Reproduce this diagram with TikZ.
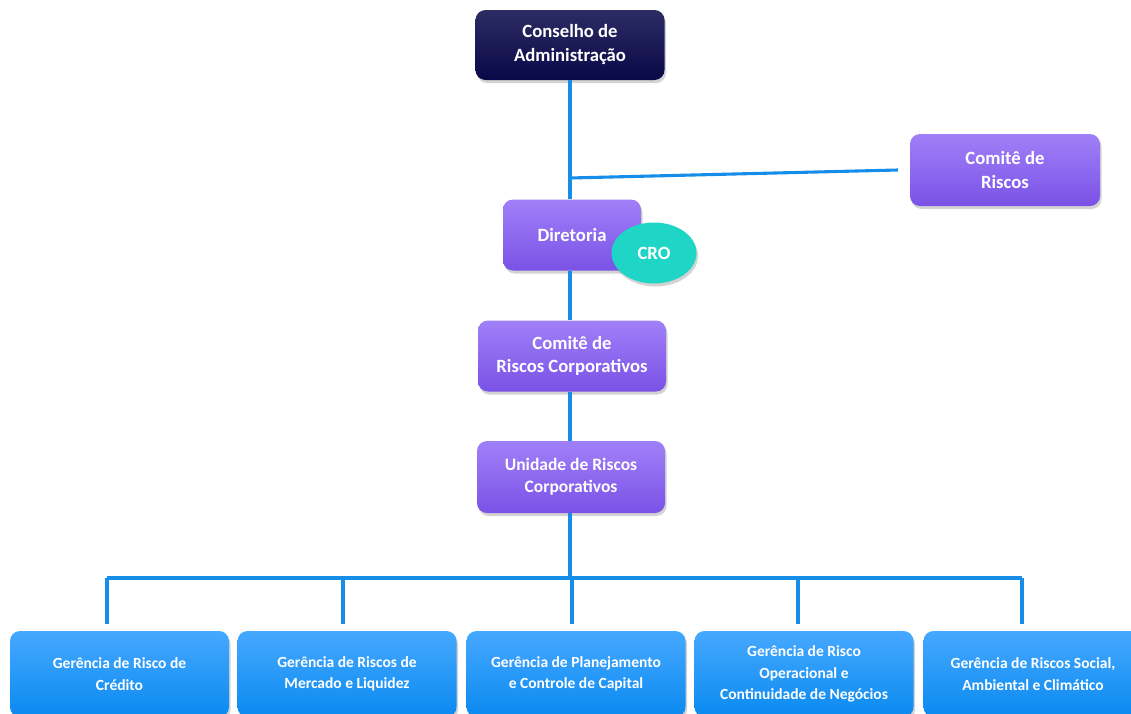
\documentclass[tikz,border=0pt]{standalone}
\usepackage{fontspec}
\setmainfont{Carlito}
\usetikzlibrary{shapes.geometric,shadows}
\definecolor{navytop}{RGB}{44,44,100}
\definecolor{navybot}{RGB}{10,8,72}
\definecolor{lilactop}{RGB}{160,128,248}
\definecolor{lilacbot}{RGB}{122,82,230}
\definecolor{skytop}{RGB}{70,168,255}
\definecolor{skybot}{RGB}{10,138,240}
\definecolor{linkblue}{RGB}{22,141,232}
\definecolor{crogreen}{RGB}{31,213,198}
\begin{document}
\begin{tikzpicture}[x=1pt,y=-1pt,
    box/.style={rectangle,rounded corners=10pt,inner sep=0pt,align=center,text=white,
        drop shadow={opacity=0.35,shadow xshift=1.5pt,shadow yshift=-3pt}},
    navybox/.style={box,top color=navytop,bottom color=navybot,
        font=\bfseries\fontsize{18.7}{24}\selectfont},
    lilacbox/.style={box,top color=lilactop,bottom color=lilacbot,
        font=\bfseries\fontsize{18.7}{23.5}\selectfont},
    skybox/.style={box,top color=skytop,bottom color=skybot,
        minimum width=219pt,minimum height=86pt,
        font=\bfseries\fontsize{15.5}{21.5}\selectfont},
    link/.style={draw=linkblue,line width=3.1pt}]
    \useasboundingbox (0,0) rectangle (1131,713);
    \clip (0,0) rectangle (1131,713);
    %% Top of the tree
    \node[navybox,minimum width=189pt,minimum height=70pt] (conselho) at (570,45) {Conselho de\\Administração};
    \node[lilacbox,minimum width=190pt,minimum height=72pt] (comite) at (1005,170) {Comitê de\\Riscos};
    \node[lilacbox,minimum width=138pt,minimum height=71pt] (diretoria) at (572,235) {Diretoria};
    \node[ellipse,fill=crogreen,minimum width=85pt,minimum height=61pt,inner sep=0pt,text=white,
        font=\bfseries\fontsize{18.7}{23}\selectfont,
        drop shadow={opacity=0.35,shadow xshift=1.5pt,shadow yshift=-3pt}] (cro) at (654,253) {CRO};
    \node[lilacbox,minimum width=188pt,minimum height=71pt] (comitecorp) at (572,356) {Comitê de\\Riscos Corporativos};
    \node[lilacbox,minimum width=188pt,minimum height=72pt,
        font=\bfseries\fontsize{17.5}{22}\selectfont] (unidade) at (571,477) {Unidade de Riscos\\Corporativos};
    %% Managements
    \node[skybox] (credito) at (119.5,674) {Gerência de Risco de\\Crédito};
    \node[skybox] (mercado) at (347,674) {Gerência de Riscos de\\Mercado e Liquidez};
    \node[skybox] (capital) at (576,674) {Gerência de Planejamento\\e Controle de Capital};
    \node[skybox] (operacional) at (804,674) {Gerência de Risco\\Operacional e\\Continuidade de Negócios};
    \node[skybox] (social) at (1033,674) {Gerência de Riscos Social,\\Ambiental e Climático};
    %% Links
    \coordinate (tee) at (570,178);
    \coordinate (bus) at (570,578);
    \draw[link] (conselho.south) -- (conselho.south |- diretoria.north);
    \draw[link] (tee) -- ([xshift=-12pt]comite.west);
    \draw[link] (tee |- diretoria.south) -- (tee |- comitecorp.north);
    \draw[link] (tee |- comitecorp.south) -- (tee |- unidade.north);
    \draw[link] (tee |- unidade.south) -- (bus);
    \draw[link] ([xshift=-12.5pt]credito.north |- bus) -- ([xshift=-11pt]social.north |- bus);
    \foreach \mgr/\off in {credito/-12.5,mercado/-4,capital/-4,operacional/-6,social/-11}
        \draw[link] ([xshift=\off pt]\mgr.north |- bus) -- ([xshift=\off pt,yshift=7pt]\mgr.north);
\end{tikzpicture}
\end{document}
